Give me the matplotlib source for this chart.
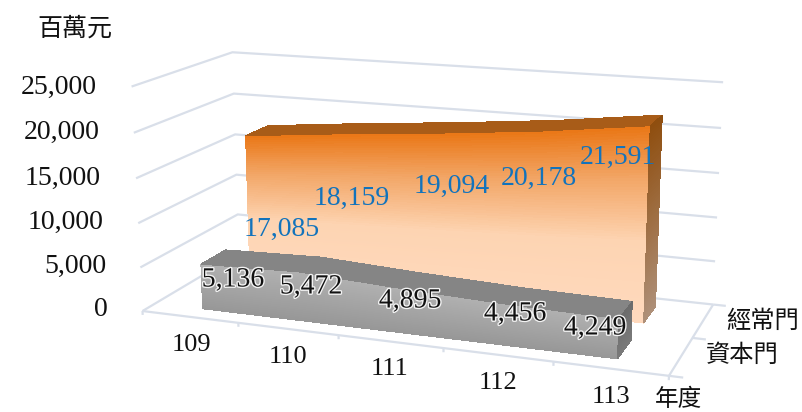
import numpy as np
import matplotlib
matplotlib.use("Agg")
import matplotlib.pyplot as plt
import matplotlib.patheffects as pe
from matplotlib.colors import to_rgb
from mpl_toolkits.mplot3d import Axes3D  # noqa

annees = ["109", "110", "111", "112", "113"]
courant = [17085, 18159, 19094, 20178, 21591]   # 經常門
capital = [5136, 5472, 4895, 4456, 4249]        # 資本門
series = ["資本門", "經常門"]
zticks = [0, 5000, 10000, 15000, 20000, 25000]

GRILLE, NOIR, BLEU = "#d9dfe9", "#111111", "#1273bc"
SERIF = "Liberation Serif"
CJK = ["Noto Sans CJK TC", "DejaVu Sans"]

W, H = 803, 412
# camera ajustee sur les coins du plancher et des murs
ELEV, AZIM, ROLL, FOCALE = 14.565, -69.866, 0.096, 0.4918
ASPECT = (1, 0.4018, 0.4278)
ECH, TX, TY = 3281.29, 429.15, 198.08

fig = plt.figure(figsize=(W / 100, H / 100), dpi=100)
cote = ECH * 0.185
gauche, bas = TX - ECH * 0.095, (H - TY) - ECH * 0.095
ax = fig.add_axes([gauche / W, bas / H, cote / W, cote / H], projection="3d")
ax.computed_zorder = False
ax.set_axis_off()
ax.patch.set_alpha(0)
ax.set_xlim(0, 5, view_margin=0)
ax.set_ylim(0, 1, view_margin=0)
ax.set_zlim(0, 25000, view_margin=0)
ax.view_init(ELEV, AZIM, ROLL)
ax.set_proj_type("persp", focal_length=FOCALE)
ax.set_box_aspect(ASPECT)


def ligne(xs, ys, zs):
    ax.plot(xs, ys, zs, color=GRILLE, lw=1.6, zorder=1, clip_on=False, solid_capstyle="butt")


# murs et plancher
for z in zticks:
    ligne([0, 0, 5], [0, 1, 1], [z, z, z])
ligne([0, 5], [0, 0], [0, 0])
ligne([5, 5], [0, 1], [0, 0])
for i in range(6):
    ligne([i, i], [0, 0], [0, -450])
for y in (0, 0.5, 1):
    ligne([5, 5.12], [y, y], [0, 0])


def degrade(stops, n):
    f = np.linspace(0, 1, n)
    rgb = np.array([to_rgb(c) for _, c in stops])
    pos = [p for p, _ in stops]
    return np.stack([np.interp(f, pos, rgb[:, k]) for k in range(3)], axis=1)


def ruban(valeurs, y0, y1, face, cote_d, dessus, zo):
    """Aire 3D : face avant en degrade, dessus, flanc droit."""
    xs = np.arange(len(valeurs)) + 0.5
    v = np.array(valeurs, float)
    n = 70
    frac = np.linspace(0, 1, n + 1)
    # face avant
    X = np.tile(xs, (n + 1, 1))
    Y = np.full_like(X, y0)
    Z = np.outer(frac, v)
    cols = degrade(face, n)
    fc = np.repeat(cols[:, None, :], len(xs) - 1, axis=1)
    ax.plot_surface(X, Y, Z, facecolors=fc, rstride=1, cstride=1, shade=False,
                    linewidth=0, antialiased=False, zorder=zo)
    # dessus
    X2 = np.vstack([xs, xs])
    Y2 = np.vstack([np.full_like(xs, y0), np.full_like(xs, y1)])
    Z2 = np.vstack([v, v])
    ax.plot_surface(X2, Y2, Z2, color=dessus, rstride=1, cstride=1, shade=False,
                    linewidth=0, antialiased=False, zorder=zo + 1)
    # flanc droit
    X3 = np.full((n + 1, 2), xs[-1])
    Y3 = np.tile([y0, y1], (n + 1, 1))
    Z3 = np.outer(frac, [v[-1], v[-1]])
    fc3 = degrade(cote_d, n)[:, None, :]
    ax.plot_surface(X3, Y3, Z3, facecolors=fc3, rstride=1, cstride=1, shade=False,
                    linewidth=0, antialiased=False, zorder=zo + 2)


ruban(courant, 0.625, 0.875,
      [(0, "#ffd9bd"), (0.42, "#fdd4b2"), (0.75, "#f2a565"), (1, "#ea7818")],
      [(0, "#ae9079"), (1, "#8f4e0f")], "#a85c18", 5)
ruban(capital, 0.125, 0.375,
      [(0, "#979797"), (1, "#b0b0b0")],
      [(0, "#7a7a7a"), (1, "#6c6c6c")], "#858585", 10)


def texte(x, y, s, **kw):
    fig.text(x / W, 1 - y / H, s, va="center", **kw)


# graduations
zt_pos = [(108, 309), (106, 266), (103, 222), (101, 178), (99.5, 132), (97, 87)]
for (x, y), z in zip(zt_pos, zticks):
    texte(x, y, f"{z:,}", ha="right", family=SERIF, fontsize=20, color=NOIR)
an_pos = [(191, 345), (288, 357), (390, 369), (498, 383), (611, 397)]
for (x, y), a in zip(an_pos, annees):
    texte(x, y, a, ha="center", family=SERIF, fontsize=19, color=NOIR)
texte(763, 321, series[1], ha="center", family=CJK, fontsize=17.5, color=NOIR)
texte(742, 355, series[0], ha="center", family=CJK, fontsize=17.5, color=NOIR)
texte(679, 400, "年度", ha="center", family=CJK, fontsize=17, color=NOIR)
texte(75, 29, "百萬元", ha="center", family=CJK, fontsize=18, color=NOIR)

# etiquettes de valeurs
bleu_pos = [(282, 229), (352, 198), (452, 186), (539, 178), (618, 157)]
for (x, y), v in zip(bleu_pos, courant):
    texte(x, y, f"{v:,}", ha="center", family=SERIF, fontsize=20, color=BLEU)
gris_pos = [(233, 280), (311, 287), (410, 301), (515, 314), (595, 328)]
halo = [pe.withStroke(linewidth=2, foreground="#f2f2f2")]
for (x, y), v in zip(gris_pos, capital):
    texte(x, y, f"{v:,}", ha="center", family=SERIF, fontsize=20, color=NOIR, path_effects=halo)

fig.savefig("out.png", dpi=100)
